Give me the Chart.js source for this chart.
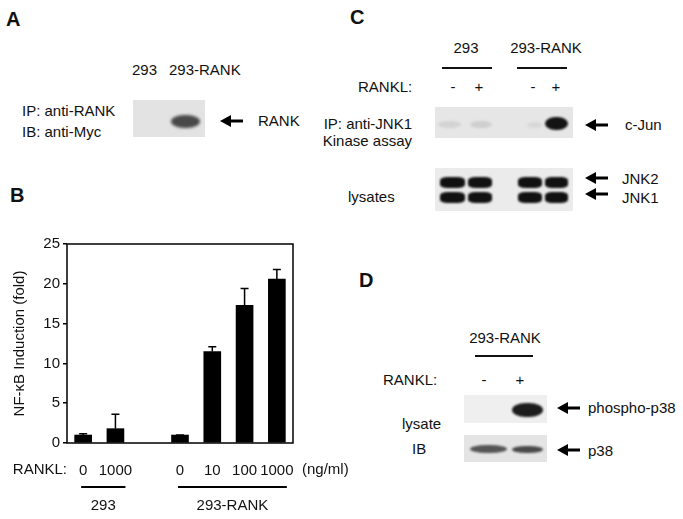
<!DOCTYPE html>
<html>
<head>
<meta charset="utf-8">
<script src="https://cdn.jsdelivr.net/npm/chart.js@4/dist/chart.umd.min.js"></script>
<style>
  body { margin: 0; background: #fff; }
  #fig { position: relative; width: 683px; height: 519px; overflow: hidden;
         font-family: 'Liberation Sans', Arial, sans-serif; font-size: 15px; color: #111; }
  .t { position: absolute; white-space: nowrap; line-height: 18px; transform: translate(0, -50%); }
  .c { transform: translate(-50%, -50%); }
  .r { transform: translate(-100%, -50%); }
  .lbl { font-weight: bold; font-size: 20px; }
  .blot { position: absolute; overflow: hidden; }
  .band { position: absolute; border-radius: 45% / 50%; filter: blur(1.2px); }
  .hl { position: absolute; height: 2px; background: #111; }
  .arr { position: absolute; }
  #chartB { position: absolute; left: 0; top: 230px; }
</style>
</head>
<body>
<div id="fig">
  <!-- panel A -->
  <div class="t lbl" style="left:6px;top:19px">A</div>
  <div class="t" style="left:132px;top:70px">293</div>
  <div class="t" style="left:169px;top:70px">293-RANK</div>
  <div class="t" style="left:22px;top:111px">IP: anti-RANK</div>
  <div class="t" style="left:22px;top:132px">IB: anti-Myc</div>
  <div class="blot" style="left:133px;top:100px;width:72px;height:37px;background:#e3e3e3">
    <div class="band" style="left:38px;top:15px;width:29px;height:13px;background:#484848;filter:blur(1.8px)"></div>
  </div>
  <svg class="arr" style="left:220px;top:115px" width="24" height="12"><polygon points="0,6 11,0 11,12"/><rect x="10" y="4.5" width="13" height="3"/></svg>
  <div class="t" style="left:258px;top:121px">RANK</div>

  <!-- panel C -->
  <div class="t lbl" style="left:350px;top:17px">C</div>
  <div class="t c" style="left:466px;top:48px">293</div>
  <div class="t c" style="left:546px;top:48px">293-RANK</div>
  <div class="hl" style="left:442px;top:67px;width:50px"></div>
  <div class="hl" style="left:517px;top:67px;width:50px"></div>
  <div class="t" style="left:358px;top:87px">RANKL:</div>
  <div class="t c" style="left:453px;top:87px">-</div>
  <div class="t c" style="left:479px;top:87px">+</div>
  <div class="t c" style="left:533px;top:87px">-</div>
  <div class="t c" style="left:556px;top:87px">+</div>
  <div class="t r" style="left:412px;top:124px">IP: anti-JNK1</div>
  <div class="t r" style="left:412px;top:141px">Kinase assay</div>
  <div class="blot" style="left:435px;top:107px;width:138px;height:31px;background:#e6e6e6">
    <div class="band" style="left:3px;top:14px;width:23px;height:7px;background:#d3d3d3"></div>
    <div class="band" style="left:35px;top:14px;width:22px;height:7px;background:#cfcfcf"></div>
    <div class="band" style="left:92px;top:15px;width:15px;height:6px;background:#d8d8d8"></div>
    <div class="band" style="left:110px;top:10px;width:23px;height:13px;background:#141414"></div>
  </div>
  <svg class="arr" style="left:585px;top:119px" width="24" height="12"><polygon points="0,6 11,0 11,12"/><rect x="10" y="4.5" width="13" height="3"/></svg>
  <div class="t" style="left:625px;top:125px">c-Jun</div>
  <div class="t" style="left:348px;top:197px">lysates</div>
  <div class="blot" style="left:435px;top:168px;width:138px;height:43px;background:#ebebeb">
    <div class="band" style="left:5px;top:9px;width:25px;height:11px;background:#111;filter:blur(0.8px);border-radius:30%"></div>
    <div class="band" style="left:33px;top:9px;width:24px;height:11px;background:#111;filter:blur(0.8px);border-radius:30%"></div>
    <div class="band" style="left:83px;top:9px;width:24px;height:11px;background:#111;filter:blur(0.8px);border-radius:30%"></div>
    <div class="band" style="left:110px;top:9px;width:23px;height:11px;background:#111;filter:blur(0.8px);border-radius:30%"></div>
    <div class="band" style="left:5px;top:24px;width:25px;height:11px;background:#111;filter:blur(0.8px);border-radius:30%"></div>
    <div class="band" style="left:33px;top:24px;width:24px;height:11px;background:#111;filter:blur(0.8px);border-radius:30%"></div>
    <div class="band" style="left:83px;top:24px;width:24px;height:11px;background:#111;filter:blur(0.8px);border-radius:30%"></div>
    <div class="band" style="left:110px;top:24px;width:23px;height:11px;background:#111;filter:blur(0.8px);border-radius:30%"></div>
  </div>
  <svg class="arr" style="left:585px;top:172px" width="24" height="12"><polygon points="0,6 11,0 11,12"/><rect x="10" y="4.5" width="13" height="3"/></svg>
  <svg class="arr" style="left:585px;top:188px" width="24" height="12"><polygon points="0,6 11,0 11,12"/><rect x="10" y="4.5" width="13" height="3"/></svg>
  <div class="t" style="left:622px;top:179px">JNK2</div>
  <div class="t" style="left:622px;top:198px">JNK1</div>

  <!-- panel D -->
  <div class="t lbl" style="left:359px;top:280px">D</div>
  <div class="t c" style="left:505px;top:338px">293-RANK</div>
  <div class="hl" style="left:475px;top:355px;width:58px"></div>
  <div class="t" style="left:383px;top:380px">RANKL:</div>
  <div class="t c" style="left:484px;top:380px">-</div>
  <div class="t c" style="left:520px;top:380px">+</div>
  <div class="t" style="left:402px;top:424px">lysate</div>
  <div class="t" style="left:412px;top:449px">IB</div>
  <div class="blot" style="left:464px;top:395px;width:83px;height:28px;background:#efefef">
    <div class="band" style="left:48px;top:8px;width:31px;height:14px;background:#1c1c1c"></div>
  </div>
  <div class="blot" style="left:464px;top:435px;width:83px;height:27px;background:#e4e4e4">
    <div class="band" style="left:6px;top:10px;width:37px;height:8px;background:#555"></div>
    <div class="band" style="left:48px;top:11px;width:31px;height:7px;background:#4a4a4a"></div>
  </div>
  <svg class="arr" style="left:557px;top:402px" width="24" height="12"><polygon points="0,6 11,0 11,12"/><rect x="10" y="4.5" width="13" height="3"/></svg>
  <svg class="arr" style="left:557px;top:444px" width="24" height="12"><polygon points="0,6 11,0 11,12"/><rect x="10" y="4.5" width="13" height="3"/></svg>
  <div class="t" style="left:588px;top:408px">phospho-p38</div>
  <div class="t" style="left:588px;top:451px">p38</div>

  <!-- panel B -->
  <div class="t lbl" style="left:10px;top:195px">B</div>
  <canvas id="chartB" width="360" height="289"></canvas>
</div>

<script>
// RANKL doses (ng/ml); the empty slot separates the two cell lines
const doses = ['0', '1000', '', '0', '10', '100', '1000'];
const induction = [1.0, 1.8, null, 1.0, 11.5, 17.3, 20.6];
const errorTop = [1.15, 3.6, null, 1.0, 12.1, 19.4, 21.8];
const yTicks = [0, 5, 10, 15, 20, 25];
const groupNames = ['293', '293-RANK'];
const groupFirst = [0, 3];
const groupLast = [1, 6];

const FONT = "'Liberation Sans', Arial, sans-serif";

const errorBars = {
    id: 'errorBars',
    afterDatasetsDraw(chart) {
        const ctx = chart.ctx;
        const y = chart.scales.y;
        const bars = chart.getDatasetMeta(0).data;
        ctx.save();
        ctx.strokeStyle = '#000';
        ctx.lineWidth = 1.5;
        bars.forEach(function (bar, i) {
            if (errorTop[i] == null) return;
            const top = y.getPixelForValue(errorTop[i]);
            ctx.beginPath();
            ctx.moveTo(bar.x, bar.y);
            ctx.lineTo(bar.x, top);
            ctx.moveTo(bar.x - 4, top);
            ctx.lineTo(bar.x + 4, top);
            ctx.stroke();
        });
        ctx.restore();
    }
};

// box round the plot, dose caption and the cell line groups under the axis
const frameAndGroups = {
    id: 'frameAndGroups',
    afterDraw(chart) {
        const ctx = chart.ctx;
        const a = chart.chartArea;
        const x = chart.scales.x;
        ctx.save();
        ctx.strokeStyle = '#000';
        ctx.lineWidth = 1.5;
        ctx.strokeRect(a.left, a.top, a.right - a.left, a.bottom - a.top);

        ctx.fillStyle = '#111';
        ctx.font = '15px ' + FONT;
        ctx.textBaseline = 'middle';
        const labelY = a.bottom + 27;
        ctx.textAlign = 'right';
        ctx.fillText('RANKL:', a.left, labelY);
        ctx.textAlign = 'left';
        ctx.fillText('(ng/ml)', a.right + 9, labelY);

        ctx.textAlign = 'center';
        groupNames.forEach(function (name, g) {
            const x1 = x.getPixelForValue(groupFirst[g]) - 2;
            const x2 = x.getPixelForValue(groupLast[g]) + 10;
            ctx.beginPath();
            ctx.moveTo(x1, a.bottom + 44);
            ctx.lineTo(x2, a.bottom + 44);
            ctx.lineWidth = 2;
            ctx.stroke();
            ctx.fillText(name, (x1 + x2) / 2, a.bottom + 63);
        });
        ctx.restore();
    }
};

new Chart(document.getElementById('chartB').getContext('2d'), {
    type: 'bar',
    data: {
        labels: doses,
        datasets: [{
            data: induction,
            backgroundColor: '#000',
            borderWidth: 0,
            barThickness: 17
        }]
    },
    options: {
        responsive: false,
        animation: false,
        devicePixelRatio: 1,
        layout: { padding: { top: 14, left: 0, right: 67, bottom: 0 } },
        plugins: { legend: { display: false }, tooltip: { enabled: false } },
        scales: {
            x: {
                offset: true,
                grid: { display: false },
                border: { display: false },
                ticks: { color: '#111', font: { family: FONT, size: 15 }, padding: 11, maxRotation: 0, autoSkip: false },
                afterFit: function (scale) { scale.height = 76; }
            },
            y: {
                min: 0,
                max: 25,
                afterBuildTicks: function (scale) {
                    scale.ticks = yTicks.map(function (v) { return { value: v }; });
                },
                grid: { drawOnChartArea: false, drawTicks: true, tickLength: 4, color: '#000', lineWidth: 1.5 },
                border: { display: false },
                ticks: { color: '#111', font: { family: FONT, size: 15 }, padding: 3 },
                title: {
                    display: true,
                    text: 'NF-κB Induction (fold)',
                    color: '#111',
                    font: { family: FONT, size: 15 },
                    padding: { top: 11, bottom: 0 }
                },
                afterFit: function (scale) { scale.width = 67; }
            }
        }
    },
    plugins: [errorBars, frameAndGroups]
});
</script>
</body>
</html>
